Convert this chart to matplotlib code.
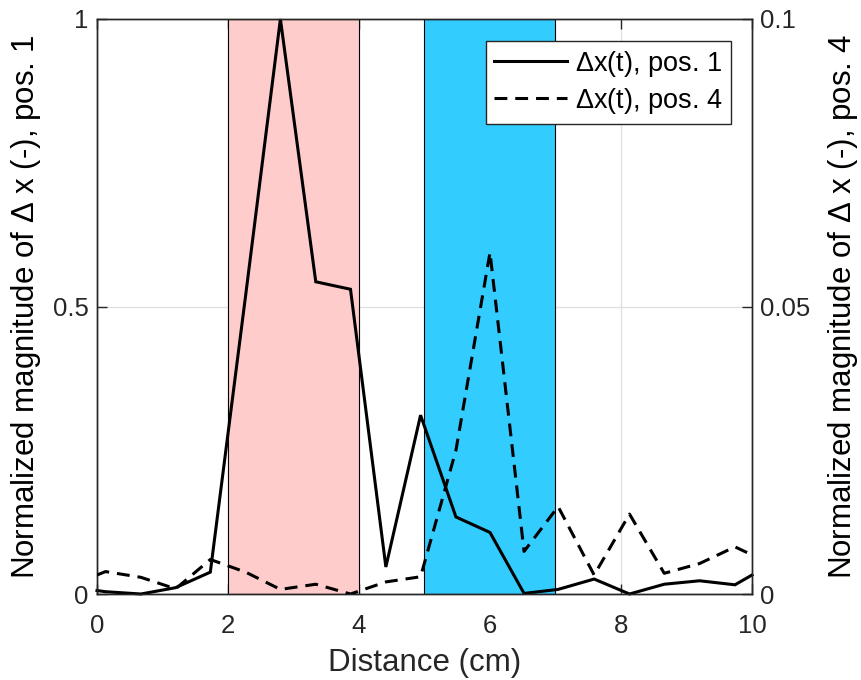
import matplotlib
matplotlib.use("Agg")
import matplotlib.pyplot as plt
from matplotlib.patches import Rectangle

plt.rcParams['font.family'] = ['Liberation Sans', 'DejaVu Sans']
plt.rcParams['mathtext.default'] = 'regular'

# Sample positions along the probe (cm)
distance = [0.0, 0.13, 0.67, 1.20, 1.73, 2.27, 2.80, 3.34, 3.87, 4.41, 4.94,
            5.48, 6.00, 6.52, 7.04, 7.59, 8.13, 8.66, 9.20, 9.74, 10.0]

# Normalized magnitude of delta-x at position 1 (left axis)
mag_pos1 = [0.006, 0.004, 0.0, 0.011, 0.038, 0.52, 1.0, 0.543, 0.530, 0.047,
            0.311, 0.134, 0.107, 0.001, 0.008, 0.026, 0.0, 0.017, 0.023,
            0.016, 0.033]

# Normalized magnitude of delta-x at position 4 (right axis)
mag_pos4 = [0.0033, 0.0039, 0.0029, 0.0009, 0.0060, 0.0038, 0.0008, 0.0017,
            0.0, 0.0021, 0.0030, 0.0250, 0.0594, 0.0074, 0.0152, 0.0033,
            0.0139, 0.0036, 0.0053, 0.0082, 0.0068]

# Highlighted regions (start, end, colour)
regions = [(2.0, 4.0, '#FFCCCC'), (5.0, 7.0, '#33CCFF')]

series_labels = [r'$\Delta$x(t), pos. 1', r'$\Delta$x(t), pos. 4']
xticks = [0, 2, 4, 6, 8, 10]
left_ticks = [0, 0.5, 1]
left_ticklabels = ['0', '0.5', '1']
right_ticks = [0, 0.05, 0.1]
right_ticklabels = ['0', '0.05', '0.1']

axis_col = '#262626'
tick_fs = 18.5
label_fs = 22.5

fig = plt.figure(figsize=(8.61, 6.8), dpi=100)
ax = fig.add_axes([97 / 861, 1 - 594 / 680, (752 - 97) / 861, (594 - 19) / 680])
ax2 = ax.twinx()
ax2.set_position(ax.get_position())

for x0, x1, col in regions:
    ax.add_patch(Rectangle((x0, 0), x1 - x0, 1, facecolor=col,
                           edgecolor='black', linewidth=0.8, zorder=1))

ax.set_axisbelow(True)
ax.grid(True, color='#DFDFDF', linewidth=0.9)

line1, = ax.plot(distance, mag_pos1, color='black', linewidth=2.2,
                 solid_joinstyle='miter', clip_on=False, zorder=3)
line2, = ax2.plot(distance, mag_pos4, color='black', linewidth=2.2,
                  linestyle=(0, (4.2, 2.6)), zorder=3)

ax.set_xlim(0, 10)
ax.set_ylim(0, 1)
ax2.set_ylim(0, 0.1)
ax.set_xticks(xticks)
ax.set_xticklabels([str(t) for t in xticks])
ax.set_yticks(left_ticks)
ax.set_yticklabels(left_ticklabels)
ax2.set_yticks(right_ticks)
ax2.set_yticklabels(right_ticklabels)

for a in (ax, ax2):
    for sp in a.spines.values():
        sp.set_color(axis_col)
        sp.set_linewidth(1.0)
ax.tick_params(axis='x', direction='in', length=7, width=1.0, top=True,
               colors=axis_col, labelsize=tick_fs, pad=14.5)
ax.tick_params(axis='y', direction='in', length=7, width=1.0,
               colors=axis_col, labelsize=tick_fs, pad=6)
ax2.tick_params(axis='y', direction='in', length=7, width=1.0,
                colors=axis_col, labelsize=tick_fs, pad=6)

ax.set_xlabel('Distance (cm)', fontsize=label_fs, color=axis_col, labelpad=7)
ax.set_ylabel(r'Normalized magnitude of $\Delta$ x (-), pos. 1',
              fontsize=label_fs, color='black', labelpad=7)
ax2.set_ylabel(r'Normalized magnitude of $\Delta$ x (-), pos. 4',
               fontsize=label_fs, color='black', rotation=90, labelpad=11)

leg = ax2.legend([line1, line2], series_labels, loc='upper right',
                 bbox_to_anchor=(730.7 / 861, 1 - 40.7 / 680),
                 bbox_transform=fig.transFigure,
                 fontsize=19.5, frameon=True, fancybox=False, framealpha=1,
                 handlelength=2.7, handletextpad=0.3, borderpad=0.3,
                 labelspacing=0.25, borderaxespad=0)
leg.get_frame().set_edgecolor(axis_col)
leg.get_frame().set_facecolor('white')
leg.get_frame().set_linewidth(1.0)

fig.savefig('out.png', dpi=100)
